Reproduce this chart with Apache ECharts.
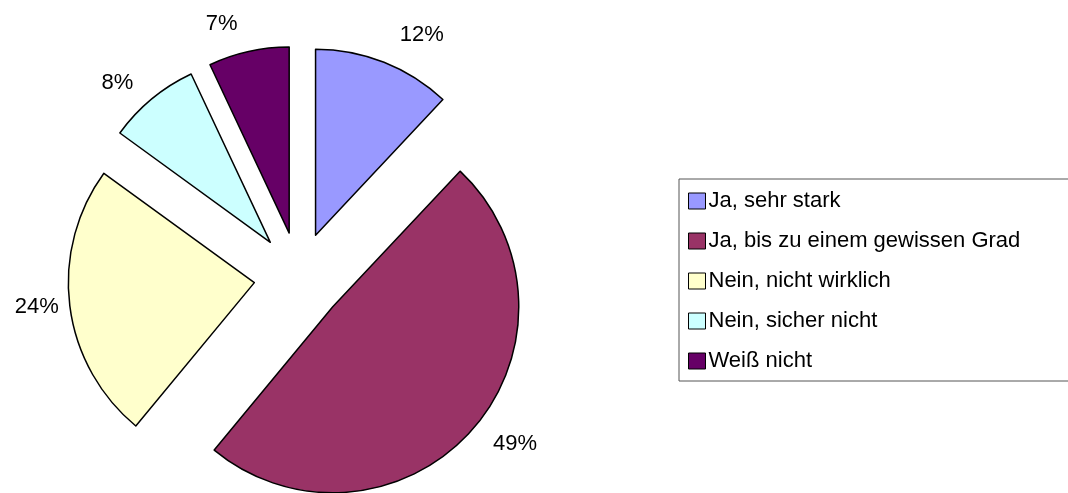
<!DOCTYPE html>
<html>
<head>
<meta charset="utf-8">
<script src="https://cdn.jsdelivr.net/npm/echarts@6/dist/echarts.min.js"></script>
<style>
html,body{margin:0;padding:0;background:#fff;}
#chart{width:1068px;height:493px;}
</style>
</head>
<body>
<div id="chart"></div>
<script>
const categories = ['Ja, sehr stark', 'Ja, bis zu einem gewissen Grad', 'Nein, nicht wirklich', 'Nein, sicher nicht', 'Weiß nicht'];
const values = [12, 49, 24, 8, 7];
const colors = ['#9999FF', '#993366', '#FFFFCC', '#CCFFFF', '#660066'];
const labelLengths = [29, 21, 6, 21, 28];

const chart = echarts.init(document.getElementById('chart'), null, {renderer: 'canvas'});
const FONT = '"Liberation Sans", Arial, sans-serif';

const data = categories.map((name, i) => ({
  name: name,
  value: values[i],
  selected: true,
  itemStyle: {color: colors[i]},
  labelLine: {show: false, length: labelLengths[i], length2: 0}
}));

chart.setOption({
  animation: false,
  backgroundColor: '#ffffff',
  legend: {
    orient: 'vertical',
    left: 679,
    top: 179,
    padding: [11, 80, 9, 9],
    itemWidth: 17,
    itemHeight: 16,
    itemGap: 18,
    selectedMode: false,
    backgroundColor: '#ffffff',
    borderColor: '#555555',
    borderWidth: 1,
    borderRadius: 0,
    icon: 'rect',
    itemStyle: {borderColor: '#000000', borderWidth: 1},
    textStyle: {fontFamily: FONT, fontSize: 22, color: '#000000', lineHeight: 20, padding: [0, 0, 0, -2]},
    data: categories
  },
  series: [{
    type: 'pie',
    center: [299, 277],
    radius: 186,
    startAngle: 90,
    clockwise: true,
    selectedMode: 'multiple',
    selectedOffset: 45,
    avoidLabelOverlap: false,
    itemStyle: {borderColor: '#000000', borderWidth: 1.5},
    label: {
      show: true,
      position: 'outside',
      formatter: '{d}%',
      fontFamily: FONT,
      fontSize: 22,
      color: '#000000',
      distanceToLabelLine: 5
    },
    labelLine: {show: false},
    emphasis: {disabled: true, scale: false},
    select: {itemStyle: {borderColor: '#000000', borderWidth: 1.5}},
    data: data
  }]
});
</script>
</body>
</html>
